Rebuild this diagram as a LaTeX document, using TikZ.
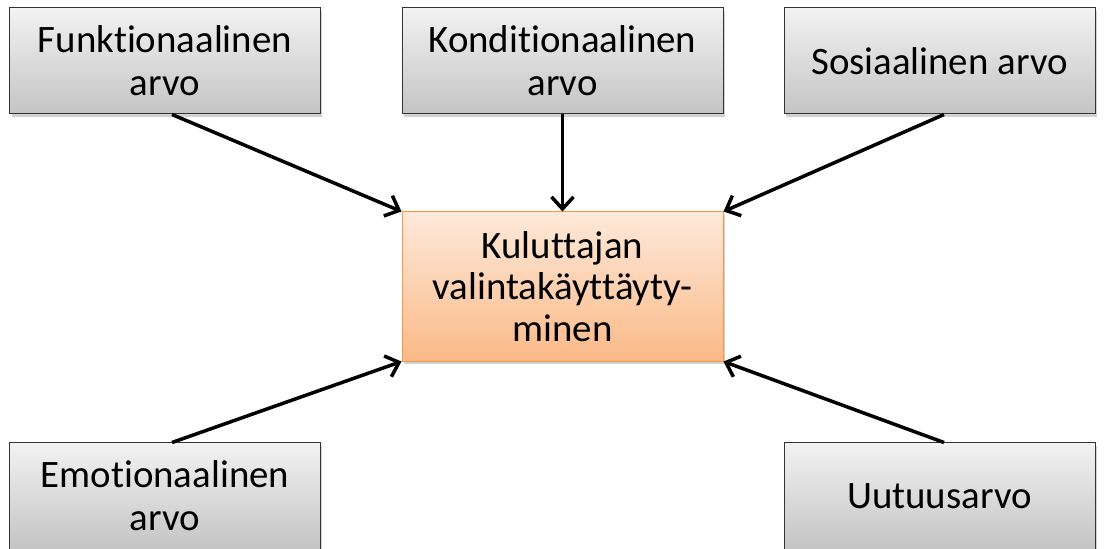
\documentclass[tikz,border=0pt]{standalone}
\usepackage{fontspec}
\setmainfont{Carlito}[Ligatures=NoCommon]
\usetikzlibrary{arrows.meta,shadows}
\definecolor{boxtop}{HTML}{F2F2F2}
\definecolor{boxbot}{HTML}{C4C4C4}
\definecolor{coretop}{HTML}{FDE9DA}
\definecolor{corebot}{HTML}{FBB987}
\definecolor{coreline}{HTML}{F79646}
\begin{document}
\begin{tikzpicture}[x=1bp,y=-1bp,
  valuebox/.style={draw=black!80, line width=1bp, minimum width=310bp, minimum height=106bp,
    top color=boxtop, bottom color=boxbot, align=center,
    drop shadow={opacity=0.35, shadow xshift=2bp, shadow yshift=-3bp},
    font=\fontsize{39}{43}\selectfont},
  corebox/.style={draw=coreline, line width=1bp, minimum width=321bp, minimum height=149bp,
    top color=coretop, bottom color=corebot, align=center,
    drop shadow={opacity=0.35, shadow xshift=2bp, shadow yshift=-3bp},
    font=\fontsize{39}{42}\selectfont},
  link/.style={line width=3.5bp, -{Straight Barb[length=12bp, width=22bp, line width=3.5bp]}}]
  \clip (0,0) rectangle (1105,549);
  \fill[white] (0,0) rectangle (1105,549);

  \node[valuebox] (fun) at (165,61) {Funktionaalinen\\arvo};
  \node[valuebox, minimum width=321bp] (con) at (562.5,61) {Konditionaalinen\\arvo};
  \node[valuebox, minimum width=311bp] (soc) at (939.5,61) {Sosiaalinen arvo};
  \node[valuebox] (emo) at (165,496) {Emotionaalinen\\arvo};
  \node[valuebox, minimum width=311bp] (new) at (939.5,496) {Uutuusarvo};

  \node[corebox] (core) at (562.5,286.5) {Kuluttajan\\valintakäyttäyty-\\minen};

  \draw[link] (fun.south) ++(7,0) -- (core.north west);
  \draw[link] (con.south) -- (core.north);
  \draw[link] (soc.south) ++(4.5,0) -- (core.north east);
  \draw[link] (emo.north) ++(7,0) -- (core.south west);
  \draw[link] (new.north) ++(4.5,0) -- (core.south east);
\end{tikzpicture}
\end{document}
